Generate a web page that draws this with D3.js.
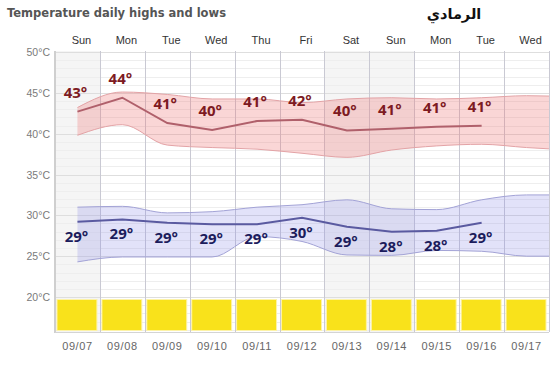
<!DOCTYPE html>
<html><head><meta charset="utf-8">
<script src="https://cdn.jsdelivr.net/npm/d3@7"></script>
<style>body{margin:0;background:#fff}svg{display:block}</style>
</head><body>
<svg id="c" width="550" height="366"></svg>
<script>
// ---- data ----
const days = ["Sun","Mon","Tue","Wed","Thu","Fri","Sat","Sun","Mon","Tue","Wed"];
const dates = ["09/07","09/08","09/09","09/10","09/11","09/12","09/13","09/14","09/15","09/16","09/17"];
const weekendIdx = [0, 6, 7];
const highs = [42.7, 44.4, 41.3, 40.45, 41.55, 41.7, 40.4, 40.6, 40.85, 40.98];
const highLabels = [43, 44, 41, 40, 41, 42, 40, 41, 41, 41];
const lows = [29.2, 29.5, 29.1, 28.9, 28.9, 29.7, 28.6, 28.0, 28.1, 29.1];
const lowLabels = [29, 29, 29, 29, 29, 30, 29, 28, 28, 29];
// historical range bands (one extra day beyond the visible area, clipped)
const highBandMax = [43.2, 45.1, 44.8, 44.25, 44.25, 43.8, 44.25, 44.4, 44.25, 44.4, 44.65, 44.5];
const highBandMin = [39.8, 41.1, 38.6, 38.3, 38.1, 37.6, 37.1, 38.0, 38.5, 38.7, 38.3, 38.0];
const lowBandMax = [31.0, 31.1, 30.3, 30.45, 31.0, 31.3, 31.9, 30.8, 30.7, 31.9, 32.5, 32.5];
const lowBandMin = [24.3, 24.9, 24.9, 24.9, 27.4, 26.8, 25.15, 25.1, 25.7, 25.6, 25.0, 25.0];
const yTicks = [50, 45, 40, 35, 30, 25, 20];
const title = "Temperature daily highs and lows";
const city = "الرمادي";

// ---- layout ----
const L = 55, R = 549, T = 51, B = 332;
const svg = d3.select("#c");
const x = d3.scaleLinear().domain([-0.5, days.length - 0.5]).range([L, R]);
const y = d3.scaleLinear().domain([20, 50]).range([297, 52]);
const colW = x(1) - x(0);

svg.append("defs").append("clipPath").attr("id","plot")
  .append("rect").attr("x", L).attr("y", T).attr("width", R - L).attr("height", B - T);

// weekend shading
svg.append("g").selectAll("rect").data(weekendIdx).join("rect")
  .attr("x", i => x(i - 0.5)).attr("y", T).attr("width", colW).attr("height", B - T)
  .attr("fill", "#f5f5f5");

// horizontal grid
const hg = d3.range(16, 51);
svg.append("g").selectAll("line").data(hg).join("line")
  .attr("x1", L).attr("x2", R).attr("y1", d => Math.round(y(d)) + 0.5).attr("y2", d => Math.round(y(d)) + 0.5)
  .attr("stroke", d => d % 5 === 0 ? "#dedede" : "#eeeeee").attr("stroke-width", 1);

// vertical grid
svg.append("g").selectAll("line").data(d3.range(1, days.length + 1)).join("line")
  .attr("x1", i => Math.round(x(i - 0.5)) + 0.5).attr("x2", i => Math.round(x(i - 0.5)) + 0.5)
  .attr("y1", T).attr("y2", B).attr("stroke", "#c9c9d3");

// bands
const gp = svg.append("g").attr("clip-path", "url(#plot)");
const bandArea = (mx, mn) => d3.area().x((d, i) => x(i)).y0((d, i) => y(mn[i])).y1(d => y(d)).curve(d3.curveMonotoneX)(mx);
const bandLine = arr => d3.line().x((d, i) => x(i)).y(d => y(d)).curve(d3.curveMonotoneX)(arr);

gp.append("path").attr("d", bandArea(highBandMax, highBandMin)).attr("fill", "rgba(240,120,120,0.30)");
gp.append("path").attr("d", bandLine(highBandMax)).attr("fill", "none").attr("stroke", "#e3a3a6").attr("stroke-width", 1);
gp.append("path").attr("d", bandLine(highBandMin)).attr("fill", "none").attr("stroke", "#e3a3a6").attr("stroke-width", 1);

gp.append("path").attr("d", bandArea(lowBandMax, lowBandMin)).attr("fill", "rgba(140,140,230,0.25)");
gp.append("path").attr("d", bandLine(lowBandMax)).attr("fill", "none").attr("stroke", "#a3a3d6").attr("stroke-width", 1);
gp.append("path").attr("d", bandLine(lowBandMin)).attr("fill", "none").attr("stroke", "#a3a3d6").attr("stroke-width", 1);

// lines
const ln = d3.line().x((d, i) => x(i)).y(d => y(d));
gp.append("path").attr("d", ln(highs)).attr("fill", "none").attr("stroke", "#b0606b").attr("stroke-width", 2);
gp.append("path").attr("d", ln(lows)).attr("fill", "none").attr("stroke", "#5a5aa0").attr("stroke-width", 2);

// labels
const lblFont = "'Open Sans', sans-serif";
svg.append("g").selectAll("text").data(highs).join("text")
  .attr("x", (d, i) => x(i) - 2).attr("y", d => y(d) - 14)
  .attr("text-anchor", "middle").attr("font-family", lblFont).attr("font-weight", 700).attr("font-size", 15)
  .attr("fill", "#7d1a22").text((d, i) => highLabels[i] + "°");
svg.append("g").selectAll("text").data(lows).join("text")
  .attr("x", (d, i) => x(i) - 1).attr("y", d => y(d) + 20)
  .attr("text-anchor", "middle").attr("font-family", lblFont).attr("font-weight", 700).attr("font-size", 15)
  .attr("fill", "#1c1c5c").text((d, i) => lowLabels[i] + "°");

// yellow weather boxes
svg.append("g").selectAll("rect").data(dates).join("rect")
  .attr("x", (d, i) => x(i - 0.5) + 2).attr("y", 299.5).attr("width", colW - 5).attr("height", 31)
  .attr("fill", "#f9e21b").attr("stroke", "#fdf3a6").attr("stroke-width", 1);

// axes lines
svg.append("line").attr("x1", L).attr("x2", L).attr("y1", T).attr("y2", B + 1).attr("stroke", "#cfcfcf").attr("stroke-width", 2);
svg.append("line").attr("x1", L).attr("x2", R).attr("y1", B + 0.5).attr("y2", B + 0.5).attr("stroke", "#d4d4d4");

// y labels
svg.append("g").selectAll("text").data(yTicks).join("text")
  .attr("x", 50).attr("y", d => y(d) + 4).attr("text-anchor", "end")
  .attr("font-family", "'Liberation Sans', Arial, sans-serif").attr("font-size", 10.5).attr("fill", "#7a7a7a")
  .text(d => d + "°C");

// day names
svg.append("g").selectAll("text").data(days).join("text")
  .attr("x", (d, i) => x(i) + 4).attr("y", 44).attr("text-anchor", "middle")
  .attr("font-family", "'Liberation Sans', Arial, sans-serif").attr("font-size", 11).attr("fill", "#333")
  .text(d => d);

// dates
svg.append("g").selectAll("text").data(dates).join("text")
  .attr("x", (d, i) => x(i)).attr("y", 350).attr("text-anchor", "middle")
  .attr("font-family", "'Liberation Sans', Arial, sans-serif").attr("font-size", 11).attr("letter-spacing", 0.6)
  .attr("fill", "#666").text(d => d);

// titles
svg.append("text").attr("x", 7).attr("y", 17).attr("font-family", "'DejaVu Sans', sans-serif")
  .attr("font-weight", "bold").attr("font-size", 11.5).attr("fill", "#555").text(title);
svg.append("text").attr("x", 454).attr("y", 19).attr("text-anchor", "middle").attr("font-family", "'DejaVu Sans', sans-serif")
  .attr("font-weight", "bold").attr("font-size", 14.5).attr("fill", "#111").text(city);
</script>
</body></html>
